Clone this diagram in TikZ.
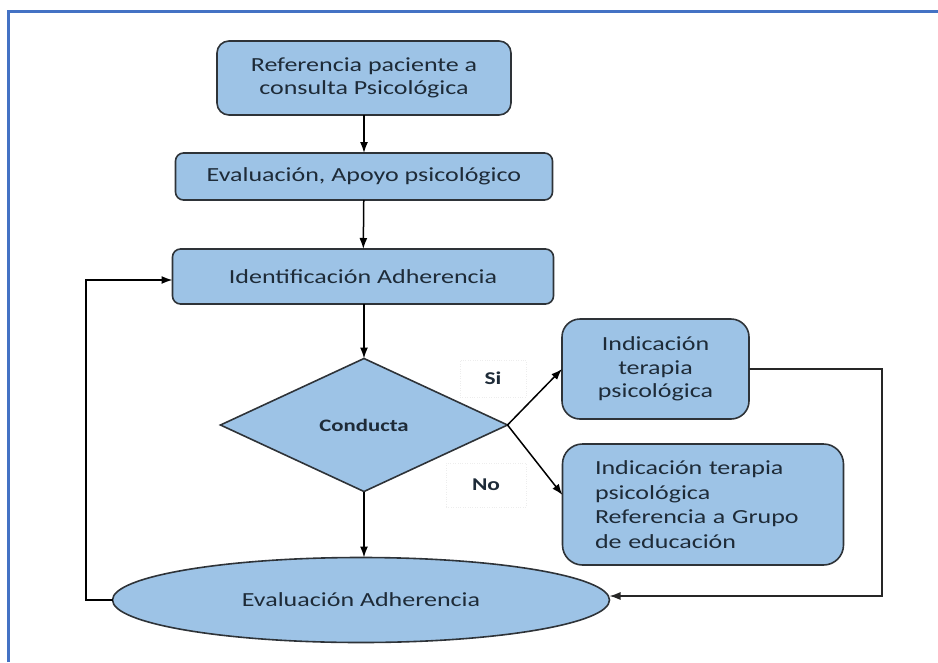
\documentclass[tikz,border=0pt]{standalone}
\usepackage{fontspec}
\setmainfont{Carlito}[FakeStretch=1.3]
\usetikzlibrary{shapes.geometric,arrows.meta}
\definecolor{boxfill}{HTML}{9DC3E6}
\definecolor{boxline}{HTML}{2E3338}
\definecolor{txt}{HTML}{1E2B38}
\definecolor{frameblue}{HTML}{4472C4}

\begin{document}
\begin{tikzpicture}[x=1pt,y=-1pt,
  every node/.style={inner sep=0pt, outer sep=0pt},
  shapebase/.style={draw=boxline, line width=1.6pt, fill=boxfill, text=txt,
    font=\fontsize{20}{23.5}\selectfont},
  procbox/.style={shapebase, rounded corners=#1},
  procbox/.default=9pt,
  decision/.style={shapebase, diamond, font=\fontsize{17.5}{20}\selectfont\bfseries},
  terminal/.style={shapebase, ellipse},
  tag/.style={draw=black!7, dotted, fill=white, text=txt,
    font=\fontsize{18}{20}\selectfont\bfseries},
  flow/.style={line width=1.5pt, black, -{Latex[length=11pt,width=8pt]}},
  backflow/.style={line width=1.2pt, black!85, -{Latex[length=11pt,width=8pt]}}
]
\useasboundingbox (0,0) rectangle (938,662);

% page frame
\draw[frameblue, line width=3pt] (8,662) -- (8,11) -- (938,11);

% main column
\node[procbox=12pt, minimum width=294pt, minimum height=74pt, align=center]
  (ref) at (364,78) {Referencia paciente a\\consulta Psicológica};
\node[procbox=8pt, minimum width=377pt, minimum height=47pt]
  (eval) at (364,176.5) {Evaluación, Apoyo psicológico};
\node[procbox=8pt, minimum width=381pt, minimum height=55pt]
  (ident) at (363,276.5) {Identificación Adherencia};
\node[decision, minimum width=287pt, minimum height=133pt]
  (cond) at (364,425) {Conducta};
\node[terminal, minimum width=497pt, minimum height=85pt]
  (evad) at (361,600) {Evaluación Adherencia};

% branches
\node[procbox=18pt, minimum width=187pt, minimum height=100pt, align=center]
  (si) at (655.5,369) {Indicación\\terapia\\psicológica};
\node[procbox=20pt, minimum width=281pt, minimum height=121pt,
  text width=216pt, align=left, font=\fontsize{20}{24.5}\selectfont]
  (no) at (703,504.5) {Indicación terapia\\psicológica\\Referencia a Grupo\\de educación};

% branch labels
\node[tag, minimum width=66pt, minimum height=37pt] (lsi) at (493,378.5) {Si};
\node[tag, minimum width=80pt, minimum height=44pt] (lno) at (486,485) {No};

% loop corners
\coordinate (lc) at (86,0);
\coordinate (rc) at (882,0);

% connectors
\draw[flow] (ref) -- (eval);
\draw[flow] (eval) -- (ident);
\draw[flow] (ident.south -| cond.north) -- (cond.north);
\draw[flow] (cond.south) -- (cond.south |- evad.north);
\draw[flow] (cond.east) -- (si.west);
\draw[flow] (cond.east) -- ([yshift=9.5pt]no.west);
\draw[backflow] (si.east) -- (si.east -| rc) |- ([yshift=4pt]evad.east);
\draw[flow] (evad.west) -- (evad.west -| lc) |- ([yshift=-3.5pt]ident.west);
\end{tikzpicture}
\end{document}
